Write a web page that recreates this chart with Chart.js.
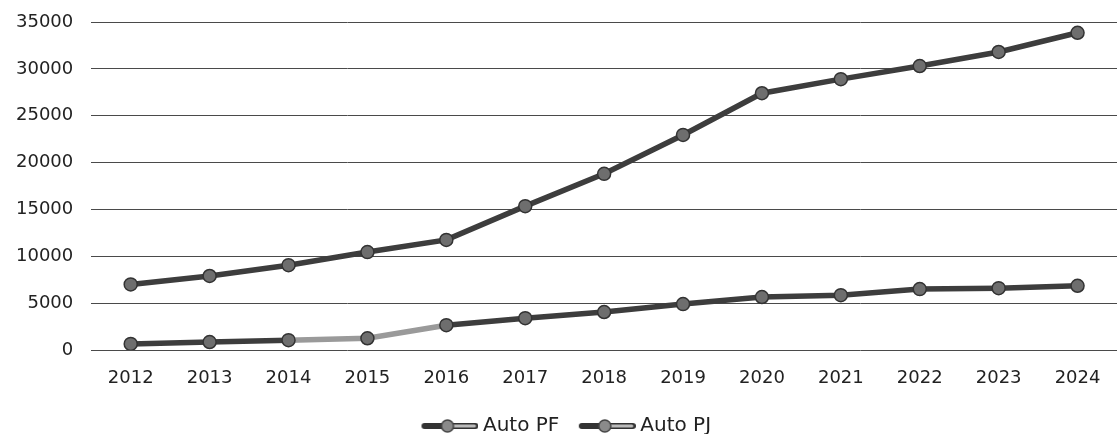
<!DOCTYPE html>
<html>
<head>
<meta charset="utf-8">
<script src="https://cdn.jsdelivr.net/npm/chart.js@4.4.1/dist/chart.umd.min.js"></script>
<style>
  html, body { margin: 0; padding: 0; background: #fff; }
  #wrap { width: 1117px; height: 434px; }
</style>
</head>
<body>
<div id="wrap"><canvas id="chart"></canvas></div>
<script>
const years = ["2012", "2013", "2014", "2015", "2016", "2017", "2018", "2019", "2020", "2021", "2022", "2023", "2024"];
const autoPF = [7000, 7900, 9050, 10450, 11750, 15350, 18800, 22950, 27400, 28900, 30300, 31800, 33850];
const autoPJ = [650, 850, 1050, 1250, 2650, 3400, 4050, 4900, 5650, 5850, 6500, 6600, 6850];
const yTicks = [0, 5000, 10000, 15000, 20000, 25000, 30000, 35000];

Chart.defaults.font.family = "'DejaVu Sans', Verdana, sans-serif";
Chart.defaults.color = "#222";

// legend marker: thick dark line on the left, hollow lighter line on the right, round point in the middle
// (23px of transparent space on the left keeps the two legend items apart)
function legendMarker() {
    const c = document.createElement("canvas");
    c.width = 80; c.height = 14;
    const g = c.getContext("2d");
    g.translate(23, 0);
    g.lineCap = "round";
    g.strokeStyle = "#333";
    g.lineWidth = 6;
    g.beginPath(); g.moveTo(3, 7); g.lineTo(54, 7); g.stroke();
    g.strokeStyle = "#bbb";
    g.lineWidth = 3;
    g.beginPath(); g.moveTo(30, 7); g.lineTo(53, 7); g.stroke();
    g.fillStyle = "#8a8a8a";
    g.strokeStyle = "#444";
    g.lineWidth = 1.5;
    g.beginPath(); g.arc(26, 7, 6, 0, Math.PI * 2); g.fill(); g.stroke();
    return c;
}
const marker = legendMarker();

// push the legend a bit lower, like in the original
const legendShift = {
    id: "legendShift",
    afterLayout(chart) {
        chart.legend.top += 12;
        chart.legend.bottom += 12;
    }
};

new Chart(document.getElementById("chart").getContext("2d"), {
    type: "line",
    data: {
        labels: years,
        datasets: [{
            label: "Auto PF",
            data: autoPF,
            borderColor: "#3d3d3d",
            borderWidth: 5.5,
            pointRadius: 6.5,
            pointBorderWidth: 1.5,
            pointBackgroundColor: "#6e6e6e",
            pointBorderColor: "#333",
            tension: 0
        }, {
            label: "Auto PJ",
            data: autoPJ,
            borderColor: "#3d3d3d",
            borderWidth: 5.5,
            pointRadius: 6.5,
            pointBorderWidth: 1.5,
            pointBackgroundColor: "#6e6e6e",
            pointBorderColor: "#333",
            segment: {
                borderColor: ctx => (ctx.p0DataIndex >= 2 && ctx.p0DataIndex <= 3) ? "#9a9a9a" : undefined
            },
            tension: 0
        }]
    },
    options: {
        responsive: true,
        maintainAspectRatio: false,
        animation: false,
        layout: { autoPadding: false, padding: { left: -2, right: 0, top: 22, bottom: 0 } },
        plugins: {
            tooltip: { enabled: false },
            legend: {
                position: "bottom",
                labels: {
                    usePointStyle: true,
                    pointStyle: marker,
                    pointStyleWidth: 69,
                    font: { size: 20 },
                    color: "#222",
                    padding: 2,
                    generateLabels: chart => chart.data.datasets.map((ds, i) => ({
                        text: ds.label,
                        pointStyle: marker,
                        datasetIndex: i,
                        hidden: false,
                        fontColor: "#222",
                        lineWidth: 0
                    }))
                }
            }
        },
        scales: {
            x: {
                offset: true,
                grid: { display: false, drawTicks: false },
                border: { display: false },
                ticks: { font: { size: 18 }, color: "#222", padding: 18 },
                afterFit: axis => {
                    axis.height = 52;
                    axis.paddingRight = 0;
                    axis.paddingLeft = 0;
                }
            },
            y: {
                min: 0,
                max: 35000,
                afterBuildTicks: axis => { axis.ticks = yTicks.map(v => ({ value: v })); },
                afterFit: axis => {
                    axis.paddingTop = 0;
                    axis.paddingBottom = 0;
                },
                grid: { color: "#4a4a4a", lineWidth: 1, drawTicks: false },
                border: { display: false },
                ticks: {
                    font: { size: 18 },
                    color: "#222",
                    padding: 18,
                    callback: v => String(v)
                }
            }
        }
    },
    plugins: [legendShift]
});
</script>
</body>
</html>
